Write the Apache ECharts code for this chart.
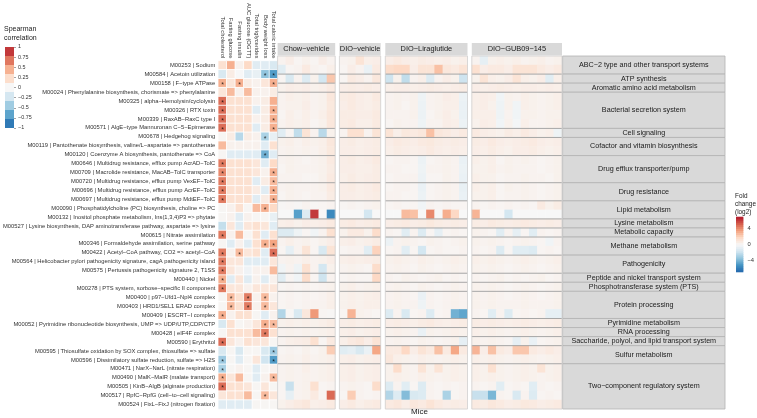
<!DOCTYPE html>
<html><head><meta charset="utf-8">
<script src="https://cdn.jsdelivr.net/npm/echarts@6/dist/echarts.min.js"></script>
<style>html,body{margin:0;padding:0;background:#fff}#c{width:757px;height:418px}</style>
</head><body><div id="c"></div>
<script>
const modules = [
'M00253 | Sodium','M00584 | Acetoin utilization','M00158 | F−type ATPase',
'M00024 | Phenylalanine biosynthesis, chorismate => phenylalanine',
'M00325 | alpha−Hemolysin/cyclolysin','M00326 | RTX toxin','M00339 | RaxAB−RaxC type I',
'M00571 | AlgE−type Mannuronan C−5−Epimerase','M00678 | Hedgehog signaling',
'M00119 | Pantothenate biosynthesis, valine/L−aspartate => pantothenate',
'M00120 | Coenzyme A biosynthesis, pantothenate => CoA',
'M00646 | Multidrug resistance, efflux pump AcrAD−TolC','M00709 | Macrolide resistance, MacAB−TolC transporter',
'M00720 | Multidrug resistance, efflux pump VexEF−TolC','M00696 | Multidrug resistance, efflux pump AcrEF−TolC',
'M00697 | Multidrug resistance, efflux pump MdtEF−TolC',
'M00090 | Phosphatidylcholine (PC) biosynthesis, choline => PC',
'M00132 | Inositol phosphate metabolism, Ins(1,3,4)P3 => phytate',
'M00527 | Lysine biosynthesis, DAP aminotransferase pathway, aspartate => lysine',
'M00615 | Nitrate assimilation','M00346 | Formaldehyde assimilation, serine pathway',
'M00422 | Acetyl−CoA pathway, CO2 => acetyl−CoA',
'M00564 | Helicobacter pylori pathogenicity signature, cagA pathogenicity island',
'M00575 | Pertussis pathogenicity signature 2, T1SS','M00440 | Nickel',
'M00278 | PTS system, sorbose−specific II component','M00400 | p97−Ufd1−Npl4 complex',
'M00403 | HRD1/SEL1 ERAD complex','M00409 | ESCRT−I complex',
'M00052 | Pyrimidine ribonucleotide biosynthesis, UMP => UDP/UTP,CDP/CTP',
'M00428 | eIF4F complex','M00590 | Erythritol',
'M00595 | Thiosulfate oxidation by SOX complex, thiosulfate => sulfate',
'M00596 | Dissimilatory sulfate reduction, sulfate => H2S',
'M00471 | NarX−NarL (nitrate respiration)','M00490 | MalK−MalR (malate transport)',
'M00505 | KinB−AlgB (alginate production)','M00517 | RpfC−RpfG (cell−to−cell signaling)',
'M00524 | FixL−FixJ (nitrogen fixation)'];

const categoryNames = ['ABC−2 type and other transport systems','ATP synthesis','Aromatic amino acid metabolism',
'Bacterial secretion system','Cell signaling','Cofactor and vitamin biosynthesis','Drug efflux transporter/pump',
'Drug resistance','Lipid metabolism','Lysine metabolism','Metabolic capacity','Methane metabolism','Pathogenicity',
'Peptide and nickel transport system','Phosphotransferase system (PTS)','Protein processing','Pyrimidine metabolism',
'RNA processing','Saccharide, polyol, and lipid transport system','Sulfur metabolism','Two−component regulatory system'];
const categorySizes = [2,1,1,4,1,2,3,2,2,1,1,2,2,1,1,3,1,1,1,2,5];

const traits = ['Total cholesterol','Fasting glucose','Fasting insulin','AUC glucose (OGTT)','Total triglycerides','Body weight loss','Total caloric intake'];
const groups = ['Chow−vehicle','DIO−vehicle','DIO−Liraglutide','DIO−GUB09−145'];
const miceCounts = [7,5,10,11];

const corr = [
[0.2,0.45,0.05,0.25,-0.15,-0.15,-0.2],
[-0.2,0.1,0,-0.15,-0.1,-0.5,-0.7],
[0.45,0.15,0.45,0.1,0.05,0.15,0.45],
[0.15,0.4,0.05,0.4,0.05,0.05,0.1],
[0.7,0.2,0.2,0.2,0.05,0.1,0.45],
[0.7,0.2,0.2,0.2,-0.15,0.1,0.45],
[0.7,0.2,0.2,0.2,0.05,0.1,0.45],
[0.7,0.2,0.2,0.2,-0.15,0.1,0.45],
[0.02,0.1,-0.35,0.1,0.05,-0.4,-0.1],
[0.4,0.05,0.05,0.05,0.05,-0.15,0.2],
[0.02,-0.15,-0.15,-0.15,-0.15,-0.6,-0.15],
[0.65,0.2,0.2,0.2,0.15,-0.15,0.25],
[0.6,0.2,0.2,0.2,0.15,0.05,0.45],
[0.65,0.2,0.2,0.2,-0.15,0.1,0.4],
[0.65,0.2,0.2,0.2,0.1,-0.15,0.45],
[0.65,0.2,0.2,0.2,-0.15,0.1,0.45],
[0.02,0.05,0.2,0.02,0.4,0.45,0.25],
[0.02,0.05,-0.15,0.05,0.02,0.02,-0.1],
[-0.3,0.15,-0.15,0.15,0.2,0.15,-0.15],
[0.65,0.05,0.4,0.02,0.2,-0.15,0.2],
[0.02,-0.15,0.05,-0.15,0.2,0.45,0.5],
[0.65,0.05,0.4,0.15,0.2,-0.15,0.7],
[0.65,0.15,0.15,-0.15,-0.15,-0.15,0.15],
[0.65,0.15,0.05,-0.05,0.05,0.05,0.4],
[0.45,-0.15,0.15,-0.15,0.05,-0.15,0.05],
[0.65,0.15,0.15,0.05,0.15,0.15,0.15],
[0.02,0.4,0.2,0.65,0.05,0.4,0.05],
[0.02,0.4,0.2,0.65,0.05,0.4,0.15],
[0.45,0.05,0.2,0.2,0.02,-0.15,0.05],
[-0.2,0.2,0.02,0.05,0.15,0.45,0.4],
[0.02,0.2,0.2,0.2,0.4,0.65,0.2],
[0.7,0.15,0.05,0.2,0.15,0.15,0.02],
[-0.2,0.02,-0.2,0.02,0.02,-0.2,-0.45],
[-0.45,0.02,-0.15,0.02,0.15,-0.25,-0.7],
[-0.4,0.02,0.05,0.02,-0.15,0.02,0.05],
[0.45,0.15,0.4,0.02,-0.15,0.05,0.4],
[0.7,0.2,0.2,0.15,0.02,0.15,0.02],
[0.15,0.2,0.2,0.4,0.02,0.4,0.15],
[-0.15,-0.15,-0.15,-0.15,0.02,0.02,0.02]];

// significant cells [row, trait]
const sigCells = [[1,5],[1,6],[2,0],[2,2],[2,6],[4,0],[5,0],[5,6],[6,0],[6,6],[7,0],[7,6],[8,5],[10,5],
[11,0],[12,0],[12,6],[13,0],[13,6],[14,0],[14,6],[15,0],[15,6],[16,5],[19,0],[20,5],[20,6],[21,0],[21,2],[21,6],
[22,0],[23,0],[24,0],[25,0],[26,1],[26,3],[26,5],[27,1],[27,3],[27,5],[28,0],[29,5],[29,6],[30,5],[31,0],
[32,6],[33,0],[33,6],[34,0],[35,0],[35,6],[36,0],[37,5]];

const fcChow = [
[0.3,0.6,0.2,0.4,0.2,0.6,0.3],[-1.0,0.2,0.3,0.8,0.3,0.2,0.5],[0.2,-1.4,0.3,-1.2,0.4,-1.6,2.4],[0.4,0.6,0.5,0.6,0.4,0.5,0.8],
[0.3,0.5,0.4,0.5,0.3,0.4,1.0],[0.3,0.4,0.4,0.6,0.3,0.4,0.9],[0.2,0.5,0.3,0.5,0.3,0.5,1.0],[0.3,0.5,0.4,0.5,0.2,0.4,1.0],
[-1.0,0.2,-2.2,1.2,0.3,-2.4,0.4],[0.4,0.5,0.3,0.5,0.4,0.5,1.0],[0.3,0.4,0.3,0.4,0.3,0.5,0.9],[0.3,0.4,0.3,0.2,0.3,0.4,0.8],
[0.2,0.4,0.3,0.3,0.3,0.4,0.7],[0.3,0.3,0.3,0.2,0.2,0.4,0.8],[0.3,0.4,0.3,0.3,0.3,0.4,0.8],[0.2,0.4,0.3,0.2,0.3,0.3,0.7],
[0.1,0.2,0.1,0.3,0.1,0.2,0.3],[0,0,-4.8,-1.2,6.2,0,-5.6],[0.5,0.6,0.4,0.6,0.5,0.6,0.8],[-1.2,-1.2,-0.4,0.2,-0.3,0.3,1.4],
[0.3,0.5,0.3,0.4,0.2,0.4,0.6],[0.2,-0.8,0.3,1.2,0.2,-1.4,1.2],[0.3,0.4,0.3,0.5,0.3,0.4,0.6],[-0.3,0.3,-0.4,1.4,0.3,-1.6,0.4],
[-1.0,0.2,-0.3,1.6,0.2,-1.8,0.3],[0.2,0.3,0.2,0.3,0.2,0.3,0.4],[0.2,0.3,0.2,0.3,0.2,0.3,0.5],[0.2,0.3,0.2,0.3,0.3,0.3,0.5],
[-2.6,0.1,-1.4,1.0,3.8,0.2,0.1],[0.4,0.5,0.4,0.5,0.4,0.5,0.7],[0.3,0.4,0.3,0.4,0.3,0.4,0.5],[0.3,0.5,0.6,0.7,1.4,0.2,0.8],
[0.2,0.3,0.2,0.4,0.2,0.4,2.2],[0.3,0.4,0.3,0.5,0.3,0.4,0.5],[0.3,0.4,0.3,0.5,0.3,0.4,0.5],[0.3,0.4,0.3,0.4,0.3,0.4,0.5],
[0.2,-2.0,0.3,0.4,1.4,0.2,0.3],[0.2,-0.8,0.3,0.4,0.8,0.2,5.0],[0.4,0.6,0.8,1.0,0.5,0.6,0.8]];

const fcVeh = [
[0.3,0.4,1.2,0.5,0.6],[0.2,0.6,0.3,-0.6,0.8],[0.2,0.8,0.6,0.3,1.0],[0.6,0.7,0.6,0.7,0.6],
[0.7,0.8,0.6,0.5,0.8],[0.6,0.8,0.6,0.5,0.7],[0.7,0.7,0.6,0.6,0.8],[0.7,0.8,0.5,0.5,0.8],
[0.3,1.4,1.4,0.3,1.2],[0.6,0.7,0.5,0.6,0.7],[0.6,0.6,0.5,0.6,0.7],[0.6,0.7,0.5,0.6,0.8],
[0.6,0.6,0.5,0.5,0.7],[0.5,0.7,0.5,0.6,0.7],[0.6,0.7,0.5,0.6,0.8],[0.6,0.6,0.5,0.6,0.7],
[0.2,0.3,0.2,0.3,0.4],[0,0,0,-1.6,0],[0.7,0.8,0.6,0.7,0.8],[0.4,0.8,0.8,0.4,1.6],
[0.5,0.6,0.4,0.5,0.7],[0.2,0.3,0.3,-1.0,2.0],[0.5,0.6,0.5,0.6,0.7],[0.3,0.4,0.3,0.2,1.6],
[0.2,0.3,0.2,0.2,1.8],[0.4,0.5,0.3,0.4,0.5],[0.4,0.5,0.4,0.5,0.6],[0.4,0.5,0.4,0.5,0.5],
[0.2,3.0,0.4,0.3,0.2],[0.6,0.7,0.5,0.6,0.7],[0.5,0.6,0.4,0.5,0.6],[0.5,0.8,1.0,0.6,1.2],
[-1.0,-0.8,-1.4,-0.6,3.4],[0.5,0.6,0.4,0.5,0.6],[0.5,0.6,0.4,0.5,0.6],[0.5,0.6,0.4,0.5,0.6],
[0.3,0.4,0.3,0.2,1.6],[0.2,2.2,0.3,0.2,0.3],[0.6,0.8,0.5,0.7,0.8]];

const fcLira = [
[0.6,0.8,0.6,0.5,0.7,0.6,0.5,0.6,0.4,0.5],[1.6,1.8,1.8,0.6,1.2,1.2,2.6,1.0,0.8,1.2],
[-1.8,0.4,-2.2,0.3,0.5,-1.2,0.3,0.6,0.4,-1.8],[0.5,0.6,0.6,0.5,0.6,0.7,0.6,0.5,0.6,0.7],
[0.3,0.4,0.3,0.4,-0.4,0.3,0.4,0.6,0.5,-0.5],[0.3,0.4,0.2,0.4,-0.5,0.3,0.4,0.5,0.5,-0.6],
[0.3,0.3,0.3,0.4,-0.5,0.2,0.4,0.6,0.4,-0.6],[0.2,0.4,0.3,0.3,-0.4,0.3,0.3,0.6,0.5,-0.5],
[1.2,0.5,0.9,0.8,1.0,2.6,1.0,0.8,0.6,0.8],[0.6,0.8,0.7,0.6,0.8,0.9,0.7,0.6,0.7,0.6],
[0.5,0.7,0.6,0.5,0.6,0.8,0.6,0.5,0.6,0.5],[0.2,0.3,0.3,0.2,-0.5,0.2,0.3,0.4,0.3,-0.6],
[0.3,0.3,0.2,0.2,-0.4,0.3,0.3,0.4,0.3,-0.5],[0.2,0.3,0.3,0.3,-0.5,0.2,0.2,0.4,0.3,-0.6],
[0.2,0.3,0.3,0.2,-0.6,0.2,0.3,0.4,0.3,-0.7],[0.3,0.3,0.2,0.2,-0.5,0.2,0.3,0.4,0.3,-0.6],
[0.2,0.3,0.2,0.2,-0.3,0.3,0.2,0.3,0.2,0.2],[0,0,2.8,2.6,0,4.2,0,3.2,1.8,0],
[0.6,0.7,0.8,0.6,0.7,0.9,0.7,0.6,0.7,0.6],[0.3,0.2,-1.0,0.3,-1.2,0.2,-0.8,0.2,0.3,0.2],
[-0.5,0.3,0.4,0.3,0.2,0.4,0.3,0.2,0.3,0.4],[0.2,0.3,-1.0,0.2,-1.6,0.2,0.3,0.2,0.2,0.3],
[0.4,0.5,0.4,0.3,0.5,0.4,0.3,0.4,0.5,0.4],[0.3,0.4,0.3,0.2,0.4,0.3,0.2,0.3,0.4,0.3],
[0.3,0.2,0.4,0.3,0.2,0.3,0.4,0.2,0.3,0.2],[0.3,0.4,0.3,0.2,0.4,0.3,0.2,0.3,0.4,0.3],
[0.3,0.4,0.3,0.2,-0.6,0.3,0.2,0.3,0.4,0.3],[0.3,0.4,0.3,0.3,-0.4,0.3,0.2,0.3,0.4,0.3],
[-1.2,0.3,-1.4,0.2,0.3,-1.2,0.2,0.3,-4.2,-4.6],[0.6,0.7,0.6,0.5,0.7,0.8,0.6,0.5,0.6,0.7],
[0.4,0.5,0.4,0.3,-0.6,0.4,0.3,0.4,0.5,0.4],[0.3,0.4,0.3,0.2,0.4,0.3,0.2,0.3,0.4,-0.8],
[0.8,0.8,1.8,0.6,1.2,0.8,2.6,0.8,3.4,0.8],[1.0,0.5,0.4,0.3,0.5,0.4,0.3,0.4,0.5,0.4],
[0.4,1.6,0.4,0.3,1.2,0.4,1.2,0.4,0.5,0.4],[0.4,0.5,0.4,0.3,0.5,0.4,0.3,0.4,0.5,0.4],
[-1.2,0.3,-1.0,0.2,-1.2,0.3,0.2,0.3,0.2,0.3],[-2.6,-1.2,-3.8,-1.4,-1.2,0.3,0.2,-2.8,0.2,0.3],
[0.8,1.0,0.6,1.0,0.8,1.2,0.8,0.6,0.7,0.6]];

const fcGub = [
[0.3,-0.8,0.4,0.5,0.4,0.5,0.3,0.4,0.5,0.3,0.4],[1.4,0.6,0.8,0.8,0.6,1.2,1.2,1.2,0.8,0.6,0.8],
[0.4,1.2,0.5,0.4,0.6,1.2,0.5,0.4,0.6,-1.0,0.5],[0.6,0.5,0.6,0.7,0.6,0.5,0.6,0.6,0.5,0.6,0.5],
[0.5,0.6,0.5,-0.3,0.4,0.3,0.5,0.4,0.3,0.4,0.5],[0.5,0.6,0.4,-0.4,0.4,-0.3,0.5,0.4,0.3,0.4,0.5],
[0.5,0.5,0.5,-0.4,0.3,-0.3,0.4,0.4,0.3,0.4,0.4],[0.4,0.6,0.5,-0.3,0.4,-0.2,0.5,0.3,0.3,0.4,0.5],
[0.8,0.6,0.5,0.4,0.7,0.5,0.8,0.6,0.4,0.5,-0.4],[0.7,0.6,0.8,0.6,0.5,0.6,0.7,0.8,0.6,0.5,0.6],
[0.6,0.5,0.7,0.5,0.4,0.6,0.6,0.7,0.5,0.4,0.5],[0.5,0.4,0.5,0.2,0.4,0.3,0.4,0.3,0.2,0.3,0.4],
[0.4,0.4,0.5,0.3,0.4,0.3,0.3,0.3,0.2,0.3,0.4],[0.5,0.4,0.4,0.2,0.3,0.3,0.4,0.3,0.3,0.2,0.4],
[0.5,0.4,0.5,0.2,0.4,0.3,0.4,0.3,0.2,0.3,0.4],[0.4,0.4,0.5,0.2,0.3,0.3,0.4,0.3,0.2,0.3,0.4],
[0.3,0.2,0.3,0.2,0.3,0.2,0.3,0.2,0.8,0.4,0.7],[3.0,0,0,0,-1.6,0,0,0,0,0,0],
[0.7,0.6,0.8,0.7,0.6,0.7,0.8,0.7,0.6,0.7,0.6],[0.4,0.3,0.2,-1.0,0.3,-0.8,0.2,-1.0,0.3,0.2,0.3],
[0.4,0.3,0.4,0.3,0.2,0.3,0.4,0.3,0.2,-0.3,0.3],[0.3,0.2,0.3,-1.2,0.2,-1.0,-1.0,-1.2,0.2,0.3,0.2],
[0.5,0.4,0.5,0.4,0.3,0.4,0.5,0.4,0.3,0.4,0.5],[0.4,0.3,0.4,0.3,0.2,0.3,0.4,0.3,0.2,0.3,0.4],
[0.3,0.2,0.3,0.4,0.2,0.3,0.2,0.3,0.4,0.2,0.3],[0.4,0.3,0.4,0.3,0.2,0.3,0.4,0.3,0.2,0.3,0.4],
[0.4,0.3,0.4,0.3,0.2,0.3,0.4,0.3,0.2,0.3,0.4],[0.4,0.3,0.4,0.3,0.3,0.3,0.4,0.3,0.3,0.3,0.4],
[0.3,0.2,-1.0,0.3,-1.2,0.2,0.3,0.2,0.3,-0.8,-0.8],[0.7,0.6,0.7,0.6,0.5,0.6,0.7,0.6,0.5,0.6,0.7],
[0.5,0.4,0.5,0.4,0.3,0.4,0.5,0.4,0.3,0.4,0.5],[0.4,0.3,0.4,0.3,0.2,-0.8,0.4,-0.6,0.2,0.3,0.4],
[3.0,0.6,2.6,0.8,0.6,2.4,2.4,0.8,0.6,0.8,0.6],[0.5,0.4,0.5,0.4,0.3,0.4,0.5,0.4,0.3,0.4,0.5],
[0.5,0.4,1.4,0.4,0.3,0.4,0.5,0.4,1.2,0.4,0.5],[0.5,0.4,0.5,0.4,0.3,0.4,0.5,0.4,0.3,0.4,0.5],
[0.3,0.2,0.3,-1.0,0.2,0.3,0.2,-1.0,0.3,0.2,0.3],[-2.0,-2.0,-4.0,0.3,0.2,-1.4,0.3,-1.2,0.2,0.3,0.2],
[0.8,0.7,1.0,0.8,0.6,0.7,0.9,0.8,0.6,0.7,0.8]];

const corrTicks = [1,0.75,0.5,0.25,0,-0.25,-0.5,-0.75,-1];
const fcTicks = [4,0,-4];

// ---------------- chart -----------------
const FONT = '"Liberation Sans", Arial, Helvetica, sans-serif';
const RDBU = ['#2166AC','#4393C3','#92C5DE','#D1E5F0','#F7F7F7','#FDDBC7','#F4A582','#D6604D','#B2182B'];
const fcData = [fcChow, fcVeh, fcLira, fcGub];
const panelLeft = [277.6, 339.4, 385.3, 471.8];
const panelWidth = [57.6, 41.3, 82.2, 90.2];
const TOP = 56, HEIGHT = 353;

const grids = [], xAxes = [], yAxes = [], series = [];
const hiddenAxis = {axisLine:{show:false}, axisTick:{show:false}, axisLabel:{show:false}, splitLine:{show:false}};

// grid 0: correlation heatmap
grids.push({left:211, top:TOP, width:67, height:HEIGHT});
xAxes.push({type:'category', gridIndex:0, data:traits, position:'top', axisLine:{show:false}, axisTick:{show:false},
  axisLabel:{rotate:90, interval:0, fontSize:5.8, margin:2.5, color:'#333', fontFamily:FONT}});
yAxes.push({type:'category', gridIndex:0, data:modules, inverse:true, axisLine:{show:false}, axisTick:{show:false},
  axisLabel:{interval:0, fontSize:5.8, margin:3, color:'#333', fontFamily:FONT}});
const corrCells = [];
corr.forEach((row, r) => row.forEach((v, c) => corrCells.push([c, r, v])));
const corrSeriesIdx = series.length;
series.push({type:'heatmap', xAxisIndex:0, yAxisIndex:0, data:corrCells,
  itemStyle:{borderColor:'#fff', borderWidth:0.8}, emphasis:{disabled:true}});
series.push({type:'scatter', xAxisIndex:0, yAxisIndex:0, symbolSize:0.1, silent:true,
  data: sigCells.map(([r, c]) => [c, r]),
  label:{show:true, formatter:'*', position:'inside', fontSize:7, color:'#000', offset:[0,1.8], fontFamily:FONT}});

// fold-change panels
const boundaries = [];
categorySizes.reduce((acc, n, i) => { if (i > 0) boundaries.push(acc); return acc + n; }, 0);
const fcSeriesIdx = [];
fcData.forEach((mat, g) => {
  const gi = grids.length;
  grids.push({left:panelLeft[g], top:TOP, width:panelWidth[g], height:HEIGHT});
  const ids = [];
  for (let i = 1; i <= miceCounts[g]; i++) ids.push(groups[g] + ' ' + i);
  xAxes.push(Object.assign({type:'category', gridIndex:gi, data:ids}, hiddenAxis));
  yAxes.push(Object.assign({type:'category', gridIndex:gi, data:modules, inverse:true}, hiddenAxis));
  const cells = [];
  mat.forEach((row, r) => row.forEach((v, c) => cells.push([c, r, v])));
  fcSeriesIdx.push(series.length);
  series.push({type:'heatmap', xAxisIndex:gi, yAxisIndex:gi, data:cells, emphasis:{disabled:true}});
  // row-facet separators
  series.push({type:'custom', xAxisIndex:gi, yAxisIndex:gi, silent:true, clip:false, z:5,
    data: boundaries.map(b => [0, b]),
    renderItem: (params, api) => {
      const cs = params.coordSys;
      const band = api.size([0, 1])[1];
      const y = api.coord([0, api.value(1)])[1] - band / 2;
      return {type:'line', shape:{x1:cs.x, y1:y, x2:cs.x + cs.width, y2:y}, style:{stroke:'#a6a6a6', lineWidth:1}};
    }});
  // panel border + column strip
  series.push({type:'custom', xAxisIndex:gi, yAxisIndex:gi, silent:true, clip:false, z:6,
    data:[[0, 0]],
    renderItem: (params, api) => {
      const cs = params.coordSys;
      return {type:'group', children:[
        {type:'rect', shape:{x:cs.x, y:cs.y, width:cs.width, height:cs.height}, style:{fill:null, stroke:'#d0d0d0', lineWidth:0.8}},
        {type:'rect', shape:{x:cs.x, y:cs.y - 13, width:cs.width, height:12.6}, style:{fill:'#D9D9D9'}},
        {type:'text', x:cs.x + cs.width / 2, y:cs.y - 6.6,
          style:{text:groups[g], fill:'#1a1a1a', font:'7.4px ' + FONT, align:'center', verticalAlign:'middle'}}
      ]};
    }});
});

// row strips (categories)
{
  const gi = grids.length;
  grids.push({left:562.6, top:TOP, width:162.4, height:HEIGHT});
  xAxes.push(Object.assign({type:'category', gridIndex:gi, data:['strip']}, hiddenAxis));
  yAxes.push(Object.assign({type:'category', gridIndex:gi, data:modules, inverse:true}, hiddenAxis));
  const spans = [];
  categorySizes.reduce((acc, n) => { spans.push([0, acc, acc + n - 1]); return acc + n; }, 0);
  series.push({type:'custom', xAxisIndex:gi, yAxisIndex:gi, silent:true, clip:false,
    encode:{x:0, y:[1, 2]}, data:spans,
    renderItem: (params, api) => {
      const cs = params.coordSys;
      const band = api.size([0, 1])[1];
      const y0 = api.coord([0, api.value(1)])[1] - band / 2;
      const y1 = api.coord([0, api.value(2)])[1] + band / 2;
      return {type:'group', children:[
        {type:'rect', shape:{x:cs.x, y:y0, width:cs.width, height:y1 - y0}, style:{fill:'#D9D9D9', stroke:'#b3b3b3', lineWidth:0.8}},
        {type:'text', x:cs.x + cs.width / 2, y:(y0 + y1) / 2,
          style:{text:categoryNames[params.dataIndex], fill:'#1a1a1a', font:'7.2px ' + FONT, align:'center', verticalAlign:'middle'}}
      ]};
    }});
}

// Spearman legend bar
let spearLegendIdx, fcLegendIdx;
{
  const gi = grids.length;
  grids.push({left:5, top:47, width:9, height:81});
  xAxes.push(Object.assign({type:'category', gridIndex:gi, data:['k']}, hiddenAxis));
  yAxes.push({type:'value', gridIndex:gi, min:-1, max:1, interval:0.25, position:'right',
    axisLine:{show:false}, splitLine:{show:false},
    axisTick:{show:true, length:2, lineStyle:{color:'#666', width:0.6}},
    axisLabel:{fontSize:5.4, margin:4, color:'#333', fontFamily:FONT,
      formatter: v => corrTicks.includes(v) ? String(v).replace('-', '−') : ''}});
  const steps = [];
  const n = RDBU.length;
  for (let i = 0; i < n; i++) { const lo = -1 + i * 2 / n, hi = lo + 2 / n; steps.push([0, lo, (lo + hi) / 2, hi]); }
  spearLegendIdx = series.length;
  series.push({type:'custom', xAxisIndex:gi, yAxisIndex:gi, silent:true, encode:{x:0, y:[1, 3]}, data:steps,
    renderItem: (params, api) => {
      const cs = params.coordSys;
      const a = api.coord([0, api.value(1)])[1], b = api.coord([0, api.value(3)])[1];
      return {type:'rect', shape:{x:cs.x, y:b, width:cs.width, height:a - b}, style:{fill:api.visual('color')}};
    }});
}
// Fold change legend bar
{
  const gi = grids.length;
  grids.push({left:736, top:217, width:12, height:55});
  xAxes.push(Object.assign({type:'category', gridIndex:gi, data:['k']}, hiddenAxis));
  yAxes.push({type:'value', gridIndex:gi, min:-7, max:7, interval:1, position:'right',
    axisLine:{show:false}, splitLine:{show:false}, axisTick:{show:false},
    axisLabel:{fontSize:5.8, margin:4, color:'#333', fontFamily:FONT,
      formatter: v => fcTicks.includes(v) ? String(v).replace('-', '−') : ''}});
  const steps = [];
  for (let lo = -7; lo < 7; lo += 0.5) steps.push([0, lo, lo + 0.25, lo + 0.5]);
  fcLegendIdx = series.length;
  series.push({type:'custom', xAxisIndex:gi, yAxisIndex:gi, silent:true, encode:{x:0, y:[1, 3]}, data:steps,
    renderItem: (params, api) => {
      const cs = params.coordSys;
      const a = api.coord([0, api.value(1)])[1], b = api.coord([0, api.value(3)])[1];
      return {type:'rect', shape:{x:cs.x, y:b - 0.3, width:cs.width, height:a - b + 0.6}, style:{fill:api.visual('color')}};
    }});
}

const chart = echarts.init(document.getElementById('c'));
chart.setOption({
  animation:false,
  backgroundColor:'#fff',
  textStyle:{fontFamily:FONT},
  title:[
    {text:'Spearman\ncorrelation', left:4, top:25, padding:0, textStyle:{fontSize:7, fontWeight:'normal', color:'#1a1a1a', lineHeight:9, fontFamily:FONT}},
    {text:'Fold\nchange\n(log2)', left:735, top:192, padding:0, textStyle:{fontSize:6.4, fontWeight:'normal', color:'#1a1a1a', lineHeight:8, fontFamily:FONT}},
    {text:'Mice', left:411, top:408, padding:0, textStyle:{fontSize:8, fontWeight:'normal', color:'#1a1a1a', fontFamily:FONT}}
  ],
  visualMap:[
    {type:'continuous', show:false, min:-1, max:1, dimension:2, seriesIndex:[corrSeriesIdx, spearLegendIdx], inRange:{color:RDBU}},
    {type:'continuous', show:false, min:-7, max:7, dimension:2, seriesIndex:fcSeriesIdx.concat([fcLegendIdx]), inRange:{color:RDBU}}
  ],
  grid:grids, xAxis:xAxes, yAxis:yAxes, series:series
});
</script></body></html>
